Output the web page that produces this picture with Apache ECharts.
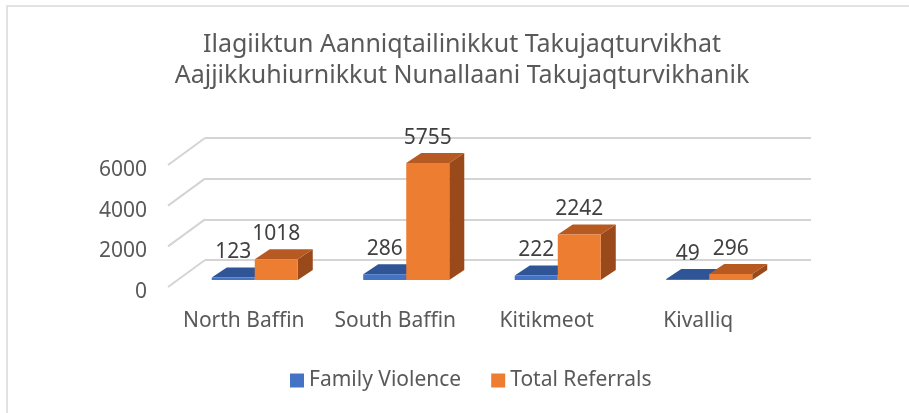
<!DOCTYPE html>
<html>
<head>
<meta charset="utf-8">
<script src="https://cdn.jsdelivr.net/npm/echarts@6/dist/echarts.min.js"></script>
<style>
  html, body { margin: 0; padding: 0; background: #fff; }
  #chart { width: 909px; height: 413px; }
</style>
</head>
<body>
<div id="chart"></div>
<script>
// data
const categories = ['North Baffin', 'South Baffin', 'Kitikmeot', 'Kivalliq']
const familyViolence = [123, 286, 222, 49]
const totalReferrals = [1018, 5755, 2242, 296]
const yTicks = [0, 2000, 4000, 6000]

// 3D look: wall -> front plane shift, bar depth
const WALL_DX = -37, WALL_DY = 27
const FRONT_DX = -26, FRONT_DY = 20
const DEPTH_DX = 15, DEPTH_DY = -10
const BAR_RATIO = 0.284

const textColor = '#595959'
const font = 'Noto Sans'

const shades = [
  { front: '#4472C4', top: '#2F5597', side: '#264478' },
  { front: '#ED7D31', top: '#B65A22', side: '#9A4A1A' },
]

function renderBar(params, api) {
  const si = params.seriesIndex
  const idx = api.value(0)
  const v = api.value(1)
  const base = api.coord([idx, 0])
  const top = api.coord([idx, v])
  const bw = api.size([1, 0])[0] * BAR_RATIO
  const fx = base[0] + FRONT_DX + (si === 0 ? -bw : 0)
  const y0 = base[1] + FRONT_DY
  const y1 = top[1] + FRONT_DY
  const c = shades[si]
  return {
    type: 'group',
    children: [
      { type: 'polygon', shape: { points: [[fx + bw, y1], [fx + bw + DEPTH_DX, y1 + DEPTH_DY], [fx + bw + DEPTH_DX, y0 + DEPTH_DY], [fx + bw, y0]] }, style: { fill: c.side } },
      { type: 'polygon', shape: { points: [[fx, y1], [fx + bw, y1], [fx + bw + DEPTH_DX, y1 + DEPTH_DY], [fx + DEPTH_DX, y1 + DEPTH_DY]] }, style: { fill: c.top } },
      { type: 'rect', shape: { x: fx, y: y1, width: bw, height: y0 - y1 }, style: { fill: c.front } },
      { type: 'text', x: fx + bw / 2, y: y1 + DEPTH_DY - 15, style: { text: String(v), fill: '#404040', font: '21px "Noto Sans"', align: 'center', verticalAlign: 'middle' } },
    ],
  }
}

function renderWall(params, api) {
  const cs = params.coordSys
  const y = api.coord([0, api.value(1)])[1]
  return {
    type: 'line',
    shape: { x1: cs.x, y1: y, x2: cs.x + WALL_DX, y2: y + WALL_DY },
    style: { stroke: '#d4d4d4', lineWidth: 2 },
  }
}

const chart = echarts.init(document.getElementById('chart'))
chart.setOption({
  animation: false,
  title: {
    text: 'Ilagiiktun Aanniqtailinikkut Takujaqturvikhat\nAajjikkuhiurnikkut Nunallaani Takujaqturvikhanik',
    left: 462, top: 29, padding: 0, textAlign: 'center',
    textStyle: { fontFamily: font, fontSize: 25, fontWeight: 'normal', color: textColor, lineHeight: 31 },
  },
  legend: {
    left: 285, top: 365, itemWidth: 14, itemHeight: 14, itemGap: 30, icon: 'rect',
    textStyle: { fontFamily: font, fontSize: 21, color: textColor },
    data: ['Family Violence', 'Total Referrals'],
  },
  grid: [
    { left: 205, right: 98, top: 138, bottom: 153 },
    { left: 168, right: 135, top: 170, bottom: 121 },
  ],
  xAxis: [
    { type: 'category', gridIndex: 0, data: categories, axisLine: { show: false }, axisTick: { show: false }, axisLabel: { show: false } },
    { type: 'category', gridIndex: 1, data: categories, axisLine: { show: false }, axisTick: { show: false },
      axisLabel: { interval: 0, margin: 19, fontFamily: font, fontSize: 21, color: textColor } },
  ],
  yAxis: [
    { type: 'value', gridIndex: 0, min: 0, max: 6000, interval: 2000,
      axisLabel: { show: false }, splitLine: { lineStyle: { color: '#d4d4d4', width: 2 } } },
    { type: 'value', gridIndex: 1, min: 0, max: 6000, interval: 2000, splitLine: { show: false },
      axisLabel: { margin: 21, fontFamily: font, fontSize: 21, color: textColor, formatter: v => String(v) } },
  ],
  series: [
    { name: 'Family Violence', type: 'custom', xAxisIndex: 0, yAxisIndex: 0, color: '#4472C4',
      renderItem: renderBar, data: familyViolence.map((v, i) => [i, v]) },
    { name: 'Total Referrals', type: 'custom', xAxisIndex: 0, yAxisIndex: 0, color: '#ED7D31',
      renderItem: renderBar, data: totalReferrals.map((v, i) => [i, v]) },
    { type: 'custom', xAxisIndex: 0, yAxisIndex: 0, silent: true, z: 1,
      renderItem: renderWall, data: yTicks.map(t => [0, t]) },
  ],
  graphic: [
    { type: 'polyline', shape: { points: [[909, 6], [7, 6], [7, 413]] }, style: { stroke: '#d9d9d9', lineWidth: 1.5, fill: null } },
  ],
})
</script>
</body>
</html>
